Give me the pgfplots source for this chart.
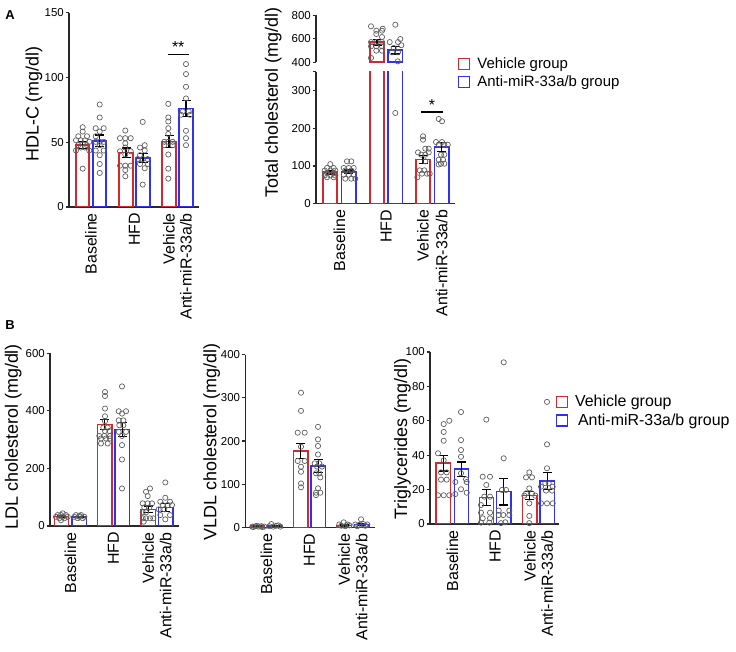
\documentclass[border=0pt]{standalone}
\usepackage{pgfplots}
\pgfplotsset{compat=1.18}
\usepackage{fontspec}
\setmainfont{Liberation Sans}
\definecolor{cred}{RGB}{214,40,44}
\definecolor{cblue}{RGB}{48,48,240}
\definecolor{cdot}{RGB}{95,95,95}
\definecolor{caxis}{RGB}{40,40,40}
\pgfplotsset{
  base/.style={
    scale only axis,
    axis x line*=bottom, axis y line*=left,
    axis line style={-, caxis, line width=1.4bp},
    xmin=0, ymin=0,
    tick align=outside,
    major tick length=3.5bp,
    ytick style={caxis, line width=1.2bp},
    xtick style={draw=none},
    /pgf/number format/assume math mode=true,
    yticklabel style={font=\fontsize{11.5}{12}\selectfont, inner sep=1.5bp},
    xticklabel style={font=\fontsize{16}{17}\selectfont, rotate=90, anchor=east, inner sep=2.5bp},
    ylabel style={font=\fontsize{18}{20}\selectfont, anchor=center},
    legend image code/.code={\draw[#1, fill=white, line width=1.4bp] (0bp,-5.5bp) rectangle (11bp,5.5bp);},
    clip=true,
  },
  rbar/.style={ybar, bar shift=0pt, draw=cred, fill=white, line width=1.6bp},
  bbar/.style={ybar, bar shift=0pt, draw=cblue, fill=white, line width=1.6bp},
  dots/.style={only marks, mark=o, mark size=2.6bp, mark options={draw=cdot, line width=0.7bp}, forget plot},
  errs/.style={forget plot, draw=none, mark=none, error bars/.cd, y dir=both, y explicit, error bar style={draw=black, line width=1.2bp, solid}, error mark options={rotate=90, draw=black, mark size=4.5bp, line width=1.2bp}},
}
\begin{document}
\begin{tikzpicture}[x=1bp,y=1bp]
\path[use as bounding box] (0,0) rectangle (736,652);
\node[font=\bfseries\fontsize{13}{13}\selectfont] at (10,637) {A};
\node[font=\bfseries\fontsize{13}{13}\selectfont] at (10,327) {B};

% ---------------- HDL-C ----------------
\begin{axis}[base, at={(69bp,445bp)}, anchor=south west, width=130bp, height=194.3bp,
  xmax=130, ymax=150, ytick={0,50,100,150}, bar width=13.5,
  xtick={22,65.5,100,117}, xticklabels={Baseline,HFD,Vehicle,Anti-miR-33a/b},
  ylabel={HDL-C (mg/dl)}, ylabel style={at={(axis description cs:-0.269,0.53)}}]
\addplot[rbar] coordinates {(13.5,48) (57,42) (100,50.5)};
\addplot[bbar] coordinates {(30.5,51) (74,38) (117,76)};
\addplot[dots] coordinates {
(13.7,61.6)(13.7,58.2)(9.3,54.6)(18,54.6)(7,51.5)(11.7,51.5)(16,51.5)(20.3,50.3)(9.3,47.7)(18,47.7)(11.7,45.9)(16,45.9)(7,43.6)(20.3,43.6)(13.7,29.6)
(30.7,79.1)(30.7,69.1)(26.7,60.8)(34.7,60.8)(30.7,58.2)(26.7,54.6)(26.7,50.3)(30.7,50.3)(34.7,50.3)(30.7,47.7)(26.7,43.6)(34.7,43.6)(30.7,40)(30.7,33.2)(30.7,26.3)
(56.3,59)(51,53.1)(56.3,53.1)(61.7,53.1)(56.3,49.2)(56.3,45.9)(51,43)(61.7,43)(56.3,40.5)(51,31.9)(56.3,31.9)(61.7,31.9)(56.3,28.5)(56.3,23.7)
(73.7,65.7)(75.7,47.7)(71,45.9)(75.7,43.6)(71,40)(68.7,37)(73.7,37)(78.7,37)(71,33.2)(78.7,33.2)(75.7,29.9)(73.7,17.3)
(99.3,79.6)(99.3,69.1)(99.3,66)(99.3,60.8)(99.3,56.4)(95.3,50.3)(99.3,50.3)(103.7,50.3)(95.3,47.7)(103.7,47.7)(99.3,40.5)(99.3,29.6)(99.3,21.9)
(117,110.3)(117,102.6)(117,92.8)(117,83.8)(113.7,73.7)(119.7,73.7)(112,71.2)(121,71.2)(117,58.8)(117,53.1)(117,47.7)};
\addplot[errs] coordinates {(13.5,48) +- (0,2.6) (57,42) +- (0,3.5) (100,50.5) +- (0,4.6)
 (30.5,51) +- (0,4.5) (74,38) +- (0,3.6) (117,76) +- (0,6)};
\draw[line width=1.2bp] (axis cs:98.7,117.8) -- (axis cs:119.7,117.8);
\node[font=\fontsize{16}{16}\selectfont, anchor=south, inner sep=1bp] at (axis cs:109.2,118.5) {**};
\end{axis}

% ---------------- Total cholesterol (lower) ----------------
\begin{axis}[base, at={(316bp,448.3bp)}, anchor=south west, width=139bp, height=131.95bp,
  xmax=139, ymax=350, ytick={0,100,200,300}, extra y ticks={350}, extra y tick labels={},
  bar width=14.5,
  xtick={23.3,70.2,107,125.7}, xticklabels={Baseline,HFD,Vehicle,Anti-miR-33a/b},
  ylabel={Total cholesterol (mg/dl)}, ylabel style={at={(axis description cs:-0.307,0.767)}},
  legend style={at={(axis description cs:1.02,0.99)}, anchor=west, draw=none, fill=none,
    font=\fontsize{15}{17}\selectfont, inner sep=0pt, row sep=2bp, column sep=5bp},
  legend cell align=left]
\addplot[rbar] coordinates {(14,84) (61,572) (107,117)};
\addplot[bbar] coordinates {(32.7,84.5) (79.3,502) (125.7,150.4)};
\legend{Vehicle group, Anti-miR-33a/b group}
\addplot[dots] coordinates {
(14.3,105)(11,94.7)(17.7,94.7)(8.7,88)(14.3,88)(19.3,88)(11,82)(17.7,82)(8.7,75)(14.3,75)(19.3,75)(11,70)(17.7,70)
(31,112.3)(35.3,112.3)(27.7,94.7)(32.7,94.7)(37.7,94.7)(29.3,88)(35.3,88)(27.7,77)(32.7,77)(37.7,77)(29.3,66.3)(35.3,66.3)(39.3,66.3)
(79.3,240.6)
(107,178.7)(107,169.8)(109.3,146)(112.7,146)(102,136)(112.7,136)(105.3,130)(109.3,130)(109.3,112.4)(103.7,88.5)(108.3,88.5)(106,79.6)(111,79.6)(113.7,79.6)(101.3,70)
(122.7,224.7)(126,218.5)(120,163.6)(126,163.6)(122.7,156.5)(128.3,156.5)(131.7,156.5)(125,130)(128.3,130)(122.7,116.7)(127,116.7)(125,106)(128.3,106)(122.7,104)};
\addplot[errs] coordinates {(14,84) +- (0,5) (107,117) +- (0,10.5) (32.7,84.5) +- (0,5) (125.7,150.4) +- (0,11)};
\draw[line width=1.2bp] (axis cs:105.3,243) -- (axis cs:126.7,243);
\node[font=\fontsize{16}{16}\selectfont, anchor=south, inner sep=1bp] at (axis cs:116,245) {*};
\end{axis}

% ---------------- Total cholesterol (upper) ----------------
\begin{axis}[base, at={(316bp,589.7bp)}, anchor=south west, width=139bp, height=47bp,
  axis x line=none, xmax=139, ymin=400, ymax=800, ytick={400,600,800},
  bar width=14.5, xtick=\empty]
\addplot[rbar] coordinates {(61,572)};
\addplot[bbar] coordinates {(79.3,502)};
\addplot[dots] coordinates {
(55,706)(66.7,686)(60.3,669)(66,669)(60.3,641)(66,615)(55,572)(60.3,572)(66,572)(55,536)(60.3,536)(66,536)(60.3,499)(66,499)(55,437)
(79.3,720)(84.3,598)(73.7,572)(82,572)(85.3,545)(77.7,522)(76,485)(82,485)(81.7,408)};
\addplot[errs] coordinates {(61,572) +- (0,25) (79.3,502) +- (0,31)};
\end{axis}

% ---------------- LDL ----------------
\begin{axis}[base, at={(50bp,126bp)}, anchor=south west, width=128.7bp, height=172.7bp,
  xmax=128.7, ymax=600, ytick={0,200,400,600}, bar width=14.3,
  xtick={20.4,63.5,98.2,115.7}, xticklabels={Baseline,HFD,Vehicle,Anti-miR-33a/b},
  ylabel={LDL cholesterol (mg/dl)}, ylabel style={at={(axis description cs:-0.285,0.517)}}]
\addplot[rbar] coordinates {(11.5,32.4) (54.8,352) (98.2,57.8)};
\addplot[bbar] coordinates {(29.3,32) (72.2,335) (115.7,64.7)};
\addplot[dots] coordinates {
(12.7,44)(7.7,38)(11,38)(16,38)(6,32)(12.7,32)(17.7,32)(9.3,27)(14.3,27)(11,20)
(26,38)(31,38)(24.3,32)(29.3,32)(34.3,32)(27.7,27)(32.7,27)(29.3,35)
(55,465.6)(55,451.7)(55,408)(55,381)(55,364)(53.3,342)(57.7,342)(55,330)(59.3,330)(49.3,313)(54.3,313)(60,313)(51,304)(56,304)(60,304)(51,286.6)(57.7,286.6)
(72,485)(68.7,398.6)(76,398.6)(72,390.5)(68.7,367)(73.3,367)(69.3,350)(73.3,350)(68.7,327)(76,327)(72,313)(72,281)(72,231)(72,130.5)
(100,130.5)(96,119)(97.7,104)(92.7,78.6)(97.7,78.6)(102,78.6)(94.3,64.7)(99.3,64.7)(92.7,47.4)(96,47.4)(92.7,26.6)(96,26.6)(100,26.6)(103.3,26.6)(93.7,15)
(115.3,151.3)(115.3,98)(110.3,84.3)(120,84.3)(112.7,72.8)(117.7,72.8)(122,72.8)(108.7,58)(114.3,58)(110.3,38)(120,38)(115.3,23)};
\addplot[errs] coordinates {(11.5,32.4) +- (0,2) (54.8,352) +- (0,17) (98.2,57.8) +- (0,12)
 (29.3,32) +- (0,2) (72.2,335) +- (0,24) (115.7,64.7) +- (0,13)};
\end{axis}

% ---------------- VLDL ----------------
\begin{axis}[base, at={(245.3bp,124.5bp)}, anchor=south west, width=129.4bp, height=172.8bp,
  xmax=129.4, ymax=400, ytick={0,100,200,300,400}, bar width=14.3,
  xtick={21.1,64.2,98.9,116.4}, xticklabels={Baseline,HFD,Vehicle,Anti-miR-33a/b},
  ylabel={VLDL cholesterol (mg/dl)}, ylabel style={at={(axis description cs:-0.26,0.495)}}]
\addplot[rbar] coordinates {(12.2,3) (55.5,177) (98.9,5)};
\addplot[bbar] coordinates {(30,4) (72.9,142.4) (116.4,7)};
\addplot[dots] coordinates {
(7,2)(10,3)(13,2)(16,3)(19,2)(8,1)(12,4)(17,1)
(24,3)(28,2)(31,4)(35,2)(26,8)(33,5)
(55.7,312)(55.7,270)(52.4,219.5)(59.4,219.5)(55.7,187)(52.4,154)(59.4,154)(55.7,140.8)(55.7,129)(55.7,102)(55.7,93)
(72.7,233)(72.7,204)(72.7,188.7)(72.7,169)(69.4,148.6)(74,148.6)(71.7,141)(76.7,141)(70.7,125.4)(74,125.4)(75,116)(72.7,90.7)(70.7,80.6)(75,80.6)(70.7,75)
(98.4,12)(94,7)(102,7)(96,4)(100,3)(104,5)
(115.7,19)(110,7)(114,6)(118,8)(122,7)(112,3)(120,4)};
\addplot[errs] coordinates {(12.2,3) +- (0,0.5) (55.5,177) +- (0,18) (98.9,5) +- (0,1.5)
 (30,4) +- (0,0.7) (72.9,142.4) +- (0,14.5) (116.4,7) +- (0,2)};
\end{axis}

% ---------------- Triglycerides ----------------
\begin{axis}[base, at={(430bp,128bp)}, anchor=south west, width=129.3bp, height=172bp,
  xmax=129.3, ymax=100, ytick={0,20,40,60,80,100}, bar width=14.3,
  xtick={22.4,65.2,99.8,117.2}, xticklabels={Baseline,HFD,Vehicle,Anti-miR-33a/b},
  ylabel={Triglycerides (mg/dl)}, ylabel style={at={(axis description cs:-0.213,0.494)}},
  legend style={at={(axis description cs:0.97,0.656)}, anchor=west, draw=none, fill=none,
    font=\fontsize{16}{18}\selectfont, inner sep=0pt, row sep=1.5bp, column sep=5bp},
  legend cell align=left]
\addplot[rbar] coordinates {(13.3,35.3) (56.5,15.3) (99.8,16.5)};
\addplot[bbar] coordinates {(31.5,31.8) (73.8,18.8) (117.2,25)};
\legend{Vehicle group, \hspace{3bp}Anti-miR-33a/b group}
\addplot[dots] coordinates {
(19.3,60)(13.7,58.1)(13.7,53.5)(13.7,48.4)(8,41.1)(13.7,37)(11,30)(16.7,30)(11,25.8)(16.7,25.8)(8,16.7)(13.7,16.7)(19.3,16.7)
(31,65.1)(31,48.8)(31,43)(31,39.1)(31,29.5)(25.3,24.4)(36.7,24.4)(36,26)(31,20.2)(36.7,18.2)(25.3,17.4)
(56.3,60.7)(52.7,27.5)(60,27.5)(56.3,22.7)(54.3,15.9)(60,15.9)(51,11)(51,6.6)(60,6.6)(52.7,3.3)(60,3.3)(51,0.8)(59.3,0.8)
(73.7,94)(73.7,38.2)(72,19.8)(76,19.8)(68.7,7.8)(79.3,7.8)(68.7,5.2)(73.3,5.2)(79.3,5.2)(75.3,1)(71,0.5)
(99.3,30)(96,27.1)(102,27.1)(99.3,20.7)(96,17.8)(102,17.8)(94.3,16.5)(105.3,16.5)(99.3,12)(99.3,4.7)(99.3,0.5)
(117,71)(117,46.3)(117,32.4)(115.3,23.7)(118.7,23.7)(111,21.7)(122.7,21.7)(116,19.4)(122,19.4)(111,12)(117,12)(122.7,12)};
\addplot[errs] coordinates {(13.3,35.3) +- (0,4.5) (56.5,15.3) +- (0,4.7) (99.8,16.5) +- (0,2.4)
 (31.5,31.8) +- (0,4.2) (73.8,18.8) +- (0,7.8) (117.2,25) +- (0,4.9)};
\end{axis}
\end{tikzpicture}
\end{document}
